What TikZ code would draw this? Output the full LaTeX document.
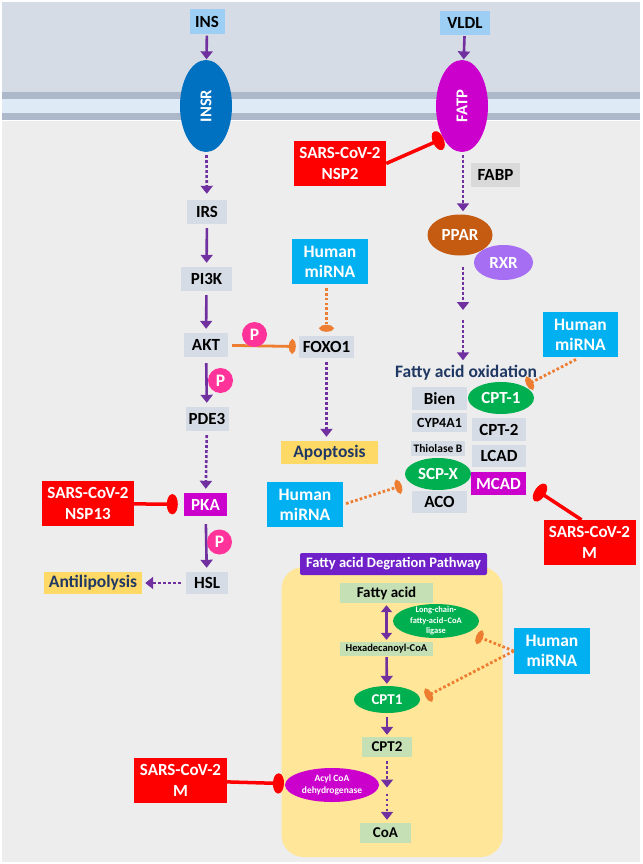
\documentclass[tikz,border=0pt]{standalone}
\usepackage{fontspec}
\setmainfont{Carlito}
\usetikzlibrary{shapes.geometric,arrows.meta}

\definecolor{bgtop}{HTML}{D6DCE5}
\definecolor{memdark}{HTML}{ADB9CA}
\definecolor{memlight}{HTML}{DEEBF7}
\definecolor{bgcell}{HTML}{EDEDED}
\definecolor{genegray}{HTML}{D6DCE5}
\definecolor{insblue}{HTML}{9DCFF5}
\definecolor{insrblue}{HTML}{0070C0}
\definecolor{magen}{HTML}{CC00CC}
\definecolor{virred}{HTML}{FF0000}
\definecolor{mirblue}{HTML}{00B0F0}
\definecolor{fabpgray}{HTML}{D9D9D9}
\definecolor{pparbrown}{HTML}{C55A11}
\definecolor{rxrpurple}{HTML}{A66EF2}
\definecolor{enzgreen}{HTML}{00B050}
\definecolor{phospink}{HTML}{FF3399}
\definecolor{actpurple}{HTML}{7030A0}
\definecolor{inhorange}{HTML}{ED7D31}
\definecolor{outyellow}{HTML}{FFD966}
\definecolor{navy}{HTML}{203864}
\definecolor{pwyellow}{HTML}{FFE699}
\definecolor{titlepurple}{HTML}{7020C8}
\definecolor{pwgreen}{HTML}{C5E0B4}

\begin{document}
\begin{tikzpicture}[x=1pt,y=-1pt]
\tikzstyle{gene}=[rectangle,fill=genegray,inner sep=0pt,minimum width=43pt,minimum height=24pt,font=\fontsize{17}{17}\selectfont\bfseries]
\tikzstyle{virus}=[rectangle,fill=virred,text=white,align=center,inner sep=0pt,minimum width=92pt,minimum height=45pt,font=\fontsize{17}{21}\selectfont\bfseries]
\tikzstyle{mirna}=[rectangle,fill=mirblue,text=white,align=center,inner sep=0pt,minimum width=76pt,minimum height=45pt,font=\fontsize{17.5}{20}\selectfont\bfseries]
\tikzstyle{outcome}=[rectangle,fill=outyellow,text=navy,inner sep=0pt,minimum height=22pt,font=\fontsize{17.5}{17.5}\selectfont\bfseries]
\tikzstyle{receptor}=[ellipse,inner sep=0pt,minimum width=52pt,minimum height=92pt,text=white,font=\fontsize{16.5}{16.5}\selectfont\bfseries]
\tikzstyle{enzyme}=[ellipse,fill=enzgreen,text=white,align=center,inner sep=-4pt,minimum width=66pt,minimum height=32pt,font=\fontsize{17}{17}\selectfont\bfseries]
\tikzstyle{phos}=[circle,fill=phospink,text=white,inner sep=0pt,minimum size=25pt,font=\fontsize{17.5}{17.5}\selectfont\bfseries]
\tikzstyle{pwbox}=[rectangle,fill=pwgreen,inner sep=0pt,minimum height=20pt,font=\fontsize{15}{15}\selectfont\bfseries]
\tikzstyle{act}=[draw=actpurple,line width=2.6pt,-{Triangle[length=8pt,width=12pt]},shorten >=4pt,shorten <=4pt]
\tikzstyle{actdot}=[act,dash pattern=on 2.8pt off 2.2pt]
\tikzstyle{inhred}=[draw=virred,line width=3.5pt,-{Ellipse[length=11pt,width=20pt]}]
\tikzstyle{inhor}=[draw=inhorange,line width=2.8pt,-{Ellipse[length=7pt,width=14pt]}]
\tikzstyle{inhordot}=[inhor,dash pattern=on 2.6pt off 2.2pt]

\useasboundingbox (0,0) rectangle (642,864);
% ========= cell background
\fill[white] (0,0) rectangle (642,864);
\fill[bgtop] (2,2) rectangle (640,92);
\fill[memdark] (2,92) rectangle (640,99);
\fill[memlight] (2,99) rectangle (640,113);
\fill[memdark] (2,113) rectangle (640,120);
\fill[bgcell] (2,121) rectangle (640,862);

% ========= receptors
\node (ins) [gene,fill=insblue,minimum width=35pt,minimum height=25pt] at (207,22) {INS};
\node (vldl) [gene,fill=insblue,minimum width=50pt] at (465,23) {VLDL};
\node (insr) [receptor,fill=insrblue] at (206,106) {\rotatebox{90}{INSR}};
\node (fatp) [receptor,fill=magen] at (462,106) {\rotatebox{90}{FATP}};
\node (nsp2) [virus] at (340,163.5) {SARS-CoV-2\\NSP2};
\node (fabp) [gene,fill=fabpgray,minimum width=49pt] at (495.5,175) {FABP};

% ========= insulin branch
\node (irs) [gene,minimum width=40pt] at (207,212) {IRS};
\node (pi3k) [gene,minimum width=51pt] at (206.5,279) {PI3K};
\node (akt) [gene,minimum width=44pt] at (206,345) {AKT};
\node (pde3) [gene] at (207,419) {PDE3};
\node (pka) [gene,fill=magen,text=white,minimum height=23pt] at (205.5,504.5) {PKA};
\node (hsl) [gene,minimum width=42pt,minimum height=22pt] at (207,583) {HSL};
\node (antil) [outcome,minimum width=98pt] at (93,583) {Antilipolysis};
\node (nsp13) [virus] at (88,503.5) {SARS-CoV-2\\NSP13};
\node (foxo1) [gene,minimum width=55pt,minimum height=22pt] at (326.5,347) {FOXO1};
\node (mir1) [mirna] at (330,261.5) {Human\\miRNA};
\node (apop) [outcome,minimum width=97pt,minimum height=23pt] at (329.5,452.5) {Apoptosis};
\node (mir3) [mirna] at (305,504.5) {Human\\miRNA};

% ========= fatty acid branch
\node (ppar) [ellipse,fill=pparbrown,text=white,inner sep=0pt,minimum width=65pt,minimum height=41pt,font=\fontsize{17}{17}\selectfont\bfseries] at (460,235) {PPAR};
\node (rxr) [ellipse,fill=rxrpurple,text=white,inner sep=0pt,minimum width=59pt,minimum height=35pt,font=\fontsize{17}{17}\selectfont\bfseries] at (503.5,262.5) {RXR};
\coordinate (ppmid) at (463,315);
\node (fao) [text=navy,inner sep=1pt,font=\fontsize{17.5}{17.5}\selectfont\bfseries] at (466,373) {Fatty acid oxidation};
\node (mir2) [mirna,minimum width=75pt] at (580.5,334.5) {Human\\miRNA};
\node (bien) [gene,minimum width=55pt,minimum height=23pt] at (439.5,398.5) {Bien};
\node (cpt1) [enzyme] at (501,398) {CPT-1};
\node (cyp) [gene,minimum width=55pt,minimum height=19pt,font=\fontsize{14}{14}\selectfont\bfseries] at (439.5,422.5) {CYP4A1};
\node (cpt2) [gene,minimum width=54pt,minimum height=23pt] at (499,429.5) {CPT-2};
\node (thio) [gene,minimum width=54pt,minimum height=15pt,font=\fontsize{11.5}{11.5}\selectfont\bfseries] at (438,448.5) {Thiolase B};
\node (lcad) [gene,minimum width=54pt,minimum height=22pt] at (499,456) {LCAD};
\node (scpx) [enzyme] at (438,474) {SCP-X};
\node (mcad) [gene,fill=magen,text=white,minimum width=55pt,minimum height=23pt] at (498.5,483.5) {MCAD};
\node (aco) [gene,minimum width=55pt,minimum height=22pt] at (439.5,502) {ACO};
\node (vm1) [virus] at (589.5,542.5) {SARS-CoV-2\\M};

% ========= degradation pathway
\fill[pwyellow,rounded corners=22pt] (281.5,567) rectangle (502.7,857);
\node (pwtitle) [rectangle,rounded corners=2pt,fill=titlepurple,text=white,inner sep=0pt,minimum width=187pt,minimum height=22pt,font=\fontsize{14.5}{14.5}\selectfont\bfseries] at (393.5,564) {Fatty acid Degration Pathway};
\node (fa) [pwbox,minimum width=93pt] at (386.5,593) {Fatty acid};
\node (lcl) [enzyme,minimum width=86pt,minimum height=34pt,font=\fontsize{8.5}{10.5}\selectfont\bfseries] at (436,621) {Long-chain-\\fatty-acid--CoA\\ligase};
\node (hexa) [pwbox,minimum width=93pt,minimum height=14pt,font=\fontsize{10.5}{10.5}\selectfont\bfseries] at (386.5,649) {Hexadecanoyl-CoA};
\node (cpt1b) [enzyme,minimum height=27pt,font=\fontsize{15}{15}\selectfont\bfseries] at (387,699.5) {CPT1};
\node (cpt2b) [pwbox,minimum width=50pt] at (387,747) {CPT2};
\node (acyl) [enzyme,fill=magen,minimum width=94pt,minimum height=34pt,font=\fontsize{9.5}{12}\selectfont\bfseries] at (332,785) {Acyl CoA\\dehydrogenase};
\coordinate (pwmid) at (387,790.5);
\node (coa) [pwbox,minimum width=51pt] at (385.5,833) {CoA};
\node (vm2) [virus,minimum width=93pt] at (180.5,780.5) {SARS-CoV-2\\M};
\node (mir4) [mirna,minimum height=46pt] at (552,651) {Human\\miRNA};

% ====== connections
\draw [act,shorten >=0.5pt,shorten <=1pt] (ins) -- (insr);
\draw [act,shorten >=0.5pt,shorten <=1pt] (vldl) -- (fatp);
\draw [actdot,shorten >=6pt,shorten <=3pt] (insr) -- (irs);
\draw [actdot,shorten >=3pt,shorten <=3pt] (fatp.south -| ppmid) -- (ppar.north -| ppmid);
\draw [act] (irs) -- (pi3k);
\draw [act] (pi3k) -- (akt);
\draw [act,shorten <=6pt] (akt) -- (pde3);
\draw [actdot] (pde3) -- (pka);
\draw [act,shorten <=8pt] (pka) -- (hsl);
\draw [actdot,shorten <=5pt,shorten >=3pt] (hsl) -- (antil);
\draw [actdot] (foxo1) -- (foxo1 |- apop.north);
\draw [actdot,shorten <=11pt,shorten >=5pt] (ppar.south -| ppmid) -- (ppmid);
\draw [actdot,shorten <=5pt] (ppmid) -- (ppmid |- fao.north);
\draw [inhor,shorten <=4pt,shorten >=3pt] (akt) -- (foxo1);
\draw [inhordot,shorten <=4pt,shorten >=4pt] (mir1.south -| foxo1) -- (foxo1);
\draw [inhordot,shorten <=5pt,shorten >=3pt] (mir2.south) -- (cpt1);
\draw [inhordot,shorten <=3pt,shorten >=9pt] (mir3.east) -- (scpx);
\draw [inhred] (nsp2.east) -- (fatp.240);
\draw [inhred,shorten >=6pt] (nsp13) -- (pka);
\draw [inhred,shorten >=11pt] ([xshift=-8pt]vm1.north) -- (mcad.east);
%% ===== pathway connections
\draw [act,{Triangle[length=7pt,width=11pt]}-{Triangle[length=7pt,width=11pt]},shorten >=2pt,shorten <=2pt] (fa) -- (hexa);
\draw [act,shorten <=1pt,shorten >=2pt] (hexa) -- (cpt1b);
\draw [act,shorten >=2pt] (cpt1b) -- (cpt2b);
\draw [actdot,shorten >=3pt] (cpt2b) -- (pwmid);
\draw [actdot,shorten <=3pt,shorten >=3pt] (pwmid) -- (pwmid |- coa.north);
\draw [inhordot,shorten >=9pt] (mir4.west) -- (lcl.-20);
\draw [inhordot,shorten >=6pt] (mir4.west) -- (cpt1b.east);
\draw [inhred,shorten >=1pt] (vm2) -- (acyl);
%% ===== phosphorylation
\node (p1) [phos] at (254.5,334.5) {P};
\node (p2) [phos] at (220.5,380.5) {P};
\node (p3) [phos] at (219.5,542) {P};
\end{tikzpicture}
\end{document}
